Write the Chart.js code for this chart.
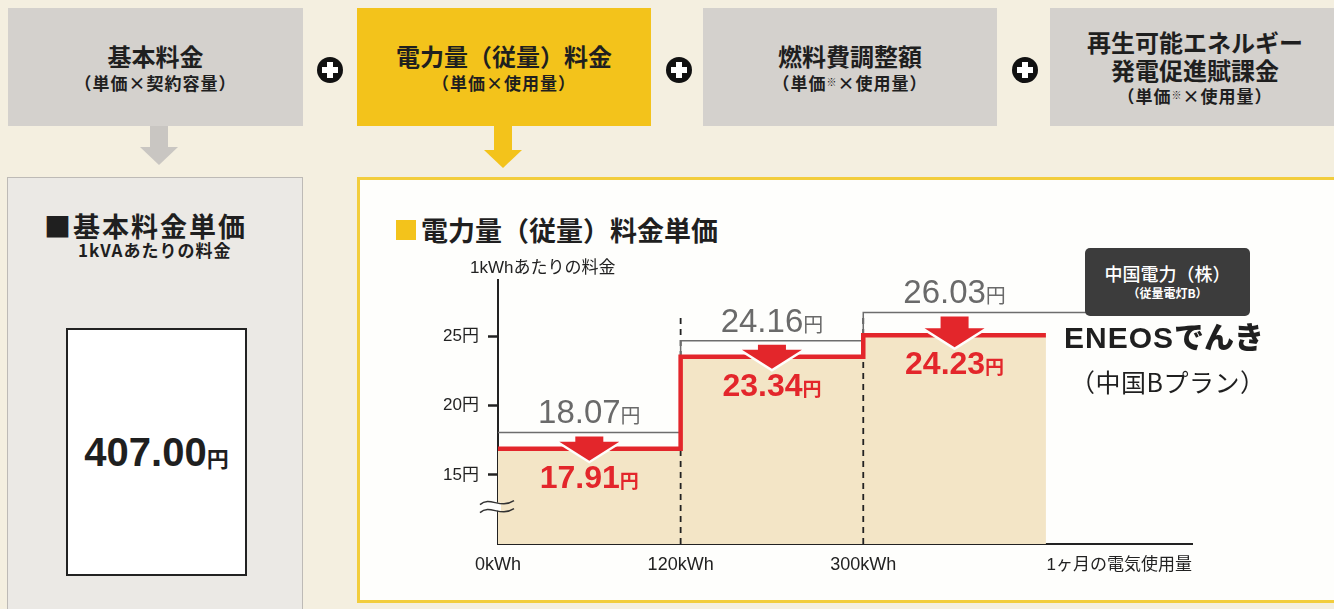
<!DOCTYPE html>
<html lang="ja">
<head>
<meta charset="utf-8">
<title>電力量（従量）料金単価</title>
<script src="https://cdn.jsdelivr.net/npm/chart.js@4.4.1/dist/chart.umd.min.js"></script>
<style>
  html, body { margin: 0; padding: 0; }
  body {
    width: 1334px; height: 609px; overflow: hidden; position: relative;
    background: #f4efe0;
    font-family: "Noto Sans CJK JP", sans-serif;
    color: #1f1f1f;
  }
  .abs { position: absolute; }
  .box {
    position: absolute; top: 8px; height: 118px; background: #d4d1cd;
    display: flex; flex-direction: column; justify-content: center; align-items: center;
    font-weight: 700; text-align: center; line-height: 1.15;
  }
  .box.yellow { background: #f3c31b; }
  .box .main { font-size: 24px; }
  .box .sub { font-size: 17px; margin-top: 3px; letter-spacing: 1px; }
  .plus { position: absolute; top: 57px; width: 26px; height: 26px; border-radius: 50%; background: #111; }
  .plus::before, .plus::after { content: ''; position: absolute; background: #fff; left: 50%; top: 50%; transform: translate(-50%, -50%); }
  .plus::before { width: 16px; height: 6px; }
  .plus::after { width: 6px; height: 16px; }
  .arrow { position: absolute; top: 126px; width: 38px; }
  .arrow .stem { width: 18px; margin: 0 auto; }
  .arrow .head { width: 0; height: 0; border-left: 19px solid transparent; border-right: 19px solid transparent; border-top: 18px solid; }
  #leftPanel { left: 7px; top: 177px; width: 294px; height: 460px; background: #ebe9e5; border: 1px solid #bdbab6; }
  #rightPanel { left: 357px; top: 177px; width: 1000px; height: 426px; background: #fefefc; border: 3px solid #f2cd3d; box-sizing: border-box; }
  #chartWrap { left: 358px; top: 178px; width: 976px; height: 425px; }
  #legendBox {
    left: 1085px; top: 248px; width: 165px; height: 68px; background: #3c3c3c; border-radius: 5px;
    color: #fff; text-align: center; display: flex; flex-direction: column; justify-content: center;
  }
</style>
</head>
<body>
  <div class="box" style="left:8px;width:295px;"><div class="main">基本料金</div><div class="sub">（単価×契約容量）</div></div>
  <div class="plus" style="left:317px;"></div>
  <div class="box yellow" style="left:357px;width:294px;"><div class="main">電力量（従量）料金</div><div class="sub">（単価×使用量）</div></div>
  <div class="plus" style="left:666px;"></div>
  <div class="box" style="left:703px;width:294px;"><div class="main">燃料費調整額</div><div class="sub">（単価<span style="font-size:10px;vertical-align:4px">※</span>×使用量）</div></div>
  <div class="plus" style="left:1012px;"></div>
  <div class="box" style="left:1050px;width:290px;"><div class="main">再生可能エネルギー<br>発電促進賦課金</div><div class="sub">（単価<span style="font-size:10px;vertical-align:4px">※</span>×使用量）</div></div>

  <div class="arrow" style="left:140px;color:#c9c6c2;"><div class="stem" style="height:21px;background:#c9c6c2;"></div><div class="head"></div></div>
  <div class="arrow" style="left:484px;color:#f3c31b;"><div class="stem" style="height:24px;background:#f3c31b;"></div><div class="head"></div></div>

  <div id="leftPanel" class="abs"></div>
  <div class="abs" style="left:44px;top:212px;font-size:27px;font-weight:700;line-height:1;letter-spacing:2px;">■基本料金単価</div>
  <div class="abs" style="left:78px;top:241px;font-size:17px;font-weight:700;line-height:1.1;letter-spacing:1px;white-space:nowrap;">1kVAあたりの料金</div>
  <div class="abs" style="left:66px;top:328px;width:177px;height:244px;background:#fff;border:2px solid #222;display:flex;align-items:center;justify-content:center;">
    <span id="basic" style="font-family:'Liberation Sans',sans-serif;font-weight:700;font-size:40px;"></span><span style="font-weight:700;font-size:22px;margin-top:10px;">円</span>
  </div>

  <div id="rightPanel" class="abs"></div>
  <div class="abs" style="left:396px;top:220px;width:20px;height:20px;background:#f3c31b;"></div>
  <div class="abs" style="left:421px;top:216px;font-size:27px;font-weight:700;line-height:1;">電力量（従量）料金単価</div>

  <div id="chartWrap" class="abs"><canvas id="chartCanvas"></canvas></div>

  <div id="legendBox" class="abs">
    <div style="font-size:18px;font-weight:500;line-height:1.2;">中国電力（株）</div>
    <div style="font-size:12px;font-weight:700;line-height:1.3;">（従量電灯B）</div>
  </div>
  <div class="abs" style="left:1064px;top:320px;font-size:30px;font-weight:900;line-height:1;white-space:nowrap;">
    <span style="font-family:'Liberation Sans',sans-serif;letter-spacing:1px;">ENEOS</span>でんき
  </div>
  <div class="abs" style="left:1070px;top:369px;font-size:25px;line-height:1;white-space:nowrap;letter-spacing:0.5px;">（中国Bプラン）</div>

<script>
// 段階（120kWh、300kWh）ごとの単価
const tierLabels = ['0kWh', '120kWh', '300kWh'];
const chugokuPrices = ['18.07', '24.16', '26.03'];
const eneosPrices = ['17.91', '23.34', '24.23'];
// 図の中で線が引かれている高さ（縦軸の目盛りから読み取った値）
const chugokuLevels = [18.07, 24.7, 26.75];
const eneosLevels = [16.9, 23.55, 25.1];
const yTickValues = [15, 20, 25];
const basicCharge = '407.00';

const Y_MIN = 10, Y_MAX = 29.1, X_MAX = 3.8;
const dividerTop = 26.5;   // 破線の上端
const breakValue = 12.7;   // 省略記号の位置
const numFont = '"Liberation Sans", "Noto Sans CJK JP", sans-serif';

document.getElementById('basic').textContent = basicCharge;

function stepPoints(levels, endX) {
  const pts = levels.map((v, i) => ({ x: i, y: v }));
  pts.push({ x: endX, y: levels[levels.length - 1] });
  return pts;
}

function drawArrow(ctx, cx, top, tip) {
  const stemW = 28, headW = 60, headH = 19;
  ctx.beginPath();
  ctx.moveTo(cx - stemW / 2, top);
  ctx.lineTo(cx + stemW / 2, top);
  ctx.lineTo(cx + stemW / 2, tip - headH);
  ctx.lineTo(cx + headW / 2, tip - headH);
  ctx.lineTo(cx, tip);
  ctx.lineTo(cx - headW / 2, tip - headH);
  ctx.lineTo(cx - stemW / 2, tip - headH);
  ctx.closePath();
  ctx.lineJoin = 'miter';
  ctx.lineWidth = 5;
  ctx.strokeStyle = '#fefefc';
  ctx.stroke();
  ctx.fillStyle = '#e3262b';
  ctx.fill();
}

function drawPrice(ctx, cx, baseline, text, color, fNum, fYen) {
  ctx.font = fNum;
  const w1 = ctx.measureText(text).width;
  ctx.font = fYen;
  const w2 = ctx.measureText('円').width;
  const x0 = cx - (w1 + w2) / 2;
  ctx.fillStyle = color;
  ctx.textAlign = 'left';
  ctx.textBaseline = 'alphabetic';
  ctx.font = fNum;
  ctx.fillText(text, x0, baseline);
  ctx.font = fYen;
  ctx.fillText('円', x0 + w1, baseline);
}

const annotate = {
  id: 'annotate',
  afterDatasetsDraw(chart) {
    const { ctx, chartArea, scales: { x, y } } = chart;
    ctx.save();
    tierLabels.forEach((_, i) => {
      const cx = x.getPixelForValue(i + 0.5);
      const gy = y.getPixelForValue(chugokuLevels[i]);
      const ry = y.getPixelForValue(eneosLevels[i]);
      drawArrow(ctx, cx, gy + 4, ry + 12);
      drawPrice(ctx, cx, gy - 9, chugokuPrices[i], '#6a6a6a', '400 33px ' + numFont, '400 20px "Noto Sans CJK JP"');
      drawPrice(ctx, cx, ry + 39, eneosPrices[i], '#e3262b', '700 32px ' + numFont, '700 19px "Noto Sans CJK JP"');
    });

    // 縦軸の省略記号
    const bx = chartArea.left, by = y.getPixelForValue(breakValue);
    ctx.fillStyle = '#fefefc';
    ctx.fillRect(bx - 3, by - 4, 6, 8);
    ctx.strokeStyle = '#333';
    ctx.lineWidth = 1.5;
    [-4, 4].forEach(off => {
      ctx.beginPath();
      ctx.moveTo(bx - 18, by + off + 2);
      ctx.bezierCurveTo(bx - 8, by + off - 7, bx + 2, by + off + 7, bx + 16, by + off - 2);
      ctx.stroke();
    });

    // 軸の見出し
    ctx.fillStyle = '#222';
    ctx.font = '17px ' + numFont;
    ctx.textBaseline = 'middle';
    ctx.textAlign = 'left';
    ctx.fillText('1kWhあたりの料金', chartArea.left - 28, chartArea.top - 12);
    ctx.textAlign = 'right';
    ctx.fillText('1ヶ月の電気使用量', chartArea.right, chartArea.bottom + 21);
    ctx.restore();
  }
};

const chartCanvas = document.getElementById('chartCanvas');
new Chart(chartCanvas, {
  type: 'line',
  data: {
    datasets: [{
      label: 'ENEOSでんき（中国Bプラン）',
      data: stepPoints(eneosLevels, tierLabels.length),
      stepped: 'before',
      borderColor: '#e3262b',
      borderWidth: 4.5,
      backgroundColor: '#f3e5c6',
      fill: 'start',
      pointRadius: 0,
      order: 0
    }, {
      label: '中国電力（株）（従量電灯B）',
      data: stepPoints(chugokuLevels, X_MAX),
      stepped: 'before',
      borderColor: '#6d6d6d',
      borderWidth: 1.5,
      fill: false,
      pointRadius: 0,
      order: 1
    }, ...[1, 2].map(i => ({
      label: 'divider' + i,
      data: [{ x: i, y: Y_MIN }, { x: i, y: dividerTop }],
      borderColor: '#222',
      borderWidth: 1.8,
      borderDash: [6, 5],
      fill: false,
      pointRadius: 0,
      order: 2
    }))]
  },
  options: {
    responsive: true,
    maintainAspectRatio: false,
    animation: false,
    events: [],
    layout: { padding: { left: 80, top: 102, right: 142, bottom: 19 } },
    plugins: {
      legend: { display: false },
      tooltip: { enabled: false },
      filler: { drawTime: 'beforeDatasetsDraw' }
    },
    scales: {
      x: {
        type: 'linear', min: 0, max: X_MAX,
        afterBuildTicks: s => { s.ticks = tierLabels.map((_, i) => ({ value: i })); },
        afterFit: s => { s.height = 40; },
        ticks: { callback: (v, i) => tierLabels[i], color: '#222', font: { size: 18, family: numFont }, padding: 10, maxRotation: 0 },
        grid: { display: false, drawTicks: false },
        border: { color: '#222', width: 2 }
      },
      y: {
        min: Y_MIN, max: Y_MAX,
        afterBuildTicks: s => { s.ticks = yTickValues.map(v => ({ value: v })); },
        afterFit: s => { s.width = 60; },
        ticks: { callback: v => v + '円', color: '#222', font: { size: 17, family: numFont }, padding: 9 },
        grid: { drawOnChartArea: false, drawTicks: true, tickLength: 10, tickWidth: 2.5, tickColor: '#222' },
        border: { color: '#222', width: 2 }
      }
    }
  },
  plugins: [annotate]
});
</script>
</body>
</html>
